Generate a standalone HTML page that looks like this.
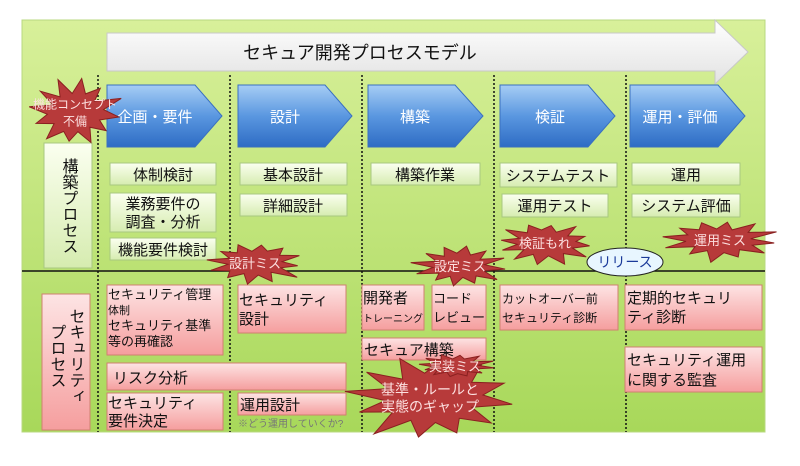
<!DOCTYPE html>
<html><head><meta charset="utf-8"><style>
body{margin:0;width:800px;height:461px;background:#fff;overflow:hidden;font-family:"Liberation Sans","Noto Sans CJK JP",sans-serif}
svg text{font-family:"Liberation Sans","Noto Sans CJK JP",sans-serif}
</style></head><body>
<svg width="800" height="461" viewBox="0 0 800 461" xmlns="http://www.w3.org/2000/svg">
<defs>
<linearGradient id="bg" x1="0" y1="0" x2="0" y2="1"><stop offset="0" stop-color="#d8f09a"/><stop offset="1" stop-color="#a8d85a"/></linearGradient>
<linearGradient id="bl" x1="0" y1="0" x2="0" y2="1"><stop offset="0" stop-color="#a6cdf5"/><stop offset="0.5" stop-color="#5a97e0"/><stop offset="1" stop-color="#2e6cc4"/></linearGradient>
<linearGradient id="gr" x1="0" y1="0" x2="0" y2="1"><stop offset="0" stop-color="#fbfff0"/><stop offset="1" stop-color="#d6ecb0"/></linearGradient>
<linearGradient id="pk" x1="0" y1="0" x2="0" y2="1"><stop offset="0" stop-color="#fde4e4"/><stop offset="1" stop-color="#f59e9e"/></linearGradient>
<linearGradient id="wh" x1="0" y1="0" x2="0" y2="1"><stop offset="0" stop-color="#ffffff"/><stop offset="1" stop-color="#e2e2e2"/></linearGradient>
</defs>
<rect x="22" y="20" width="743" height="412" fill="url(#bg)" stroke="#b8d880"/>
<polygon points="107,33 715,33 715,20 748,52 715,84 715,71 107,71" fill="url(#wh)" stroke="#c8c8c8"/>
<text x="360" y="59" font-size="18" text-anchor="middle" fill="#111">セキュア開発プロセスモデル</text>
<g stroke="#111" stroke-width="1.5" stroke-dasharray="2,2">
<line x1="98" y1="75" x2="98" y2="432"/><line x1="230" y1="75" x2="230" y2="432"/><line x1="362" y1="75" x2="362" y2="432"/><line x1="494" y1="75" x2="494" y2="432"/><line x1="626" y1="75" x2="626" y2="432"/>
</g>
<line x1="22" y1="271" x2="765" y2="271" stroke="#111" stroke-width="1.5"/>
<g fill="url(#bl)" stroke="#3a70c0">
<polygon points="107,85 195,85 222,116 195,147 107,147"/>
<polygon points="238,85 325,85 352,116 325,147 238,147"/>
<polygon points="368,85 455,85 483,116 455,147 368,147"/>
<polygon points="500,85 588,85 615,116 588,147 500,147"/>
<polygon points="630,85 718,85 745,116 718,147 630,147"/>
</g>
<g fill="#fff" font-size="15" text-anchor="middle">
<text x="155" y="122">企画・要件</text><text x="285" y="122">設計</text><text x="415" y="122">構築</text><text x="550" y="122">検証</text><text x="680" y="122">運用・評価</text>
</g>
<g fill="url(#gr)" stroke="#a8c880">
<rect x="44" y="143" width="48" height="125"/>
<rect x="110" y="163" width="106" height="22"/><rect x="110" y="193" width="106" height="39"/><rect x="110" y="238" width="106" height="22"/>
<rect x="240" y="163" width="107" height="22"/><rect x="240" y="194" width="107" height="22"/>
<rect x="371" y="163" width="109" height="22"/>
<rect x="500" y="163" width="117" height="24"/><rect x="502" y="194" width="106" height="23"/>
<rect x="632" y="163" width="108" height="22"/><rect x="632" y="194" width="108" height="23"/>
</g>
<g font-size="15" fill="#111" text-anchor="middle">
<text x="163" y="180">体制検討</text><text x="163" y="209">業務要件の</text><text x="163" y="227">調査・分析</text><text x="163" y="255">機能要件検討</text>
<text x="293" y="180">基本設計</text><text x="293" y="211">詳細設計</text><text x="425" y="180">構築作業</text>
<text x="558" y="181">システムテスト</text><text x="555" y="211">運用テスト</text>
<text x="686" y="180">運用</text><text x="686" y="211">システム評価</text>
</g>
<text font-size="16" fill="#111" style="writing-mode:tb" x="68" y="158">構築プロセス</text>
<g fill="url(#pk)" stroke="#d08070">
<rect x="42" y="294" width="48" height="136"/>
<rect x="107" y="285" width="116" height="70"/><rect x="238" y="285" width="108" height="48"/>
<rect x="362" y="285" width="62" height="45"/><rect x="432" y="285" width="54" height="45"/>
<rect x="362" y="338" width="124" height="22"/><rect x="107" y="363" width="239" height="27"/>
<rect x="107" y="393" width="116" height="37"/><rect x="238" y="393" width="108" height="22"/>
<rect x="500" y="285" width="118" height="45"/><rect x="625" y="285" width="137" height="45"/><rect x="625" y="347" width="137" height="45"/>
</g>
<g fill="#111" font-size="13">
<text x="108" y="299">セキュリティ管理</text><text x="108" y="314" font-size="11">体制</text><text x="108" y="330">セキュリティ基準</text><text x="108" y="346">等の再確認</text>
<text x="239" y="305" font-size="15">セキュリティ</text><text x="239" y="324" font-size="15">設計</text>
<text x="363" y="303" font-size="15">開発者</text><text x="363" y="322" font-size="10">トレーニング</text>
<text x="433" y="303">コード</text><text x="433" y="322">レビュー</text>
<text x="364" y="355" font-size="15">セキュア構築</text>
<text x="113" y="383" font-size="15">リスク分析</text>
<text x="108" y="408" font-size="15">セキュリティ</text><text x="108" y="426" font-size="15">要件決定</text>
<text x="240" y="410" font-size="15">運用設計</text>
<text x="238" y="427" font-size="10" fill="#777">※どう運用していくか?</text>
<text x="502" y="303" font-size="12">カットオーバー前</text><text x="502" y="322" font-size="12">セキュリティ診断</text>
<text x="627" y="303" font-size="15">定期的セキュリ</text><text x="627" y="322" font-size="15">ティ診断</text>
<text x="627" y="365" font-size="15">セキュリティ運用</text><text x="627" y="385" font-size="15">に関する監査</text>
</g>
<text font-size="16" fill="#111" style="writing-mode:tb" x="75" y="308">セキュリティ</text>
<text font-size="16" fill="#111" style="writing-mode:tb" x="56" y="324">プロセス</text>
<ellipse cx="625" cy="262" rx="38" ry="14" fill="#e8f6ff" stroke="#222"/>
<text x="625" y="267" font-size="14" fill="#1a3a9a" text-anchor="middle">リリース</text>
<g id="stars"></g>
</svg>
<script>
var S=[[75,112,48,36,22],[255,263,52,22,10],[460,266,48,22,10],[545,243,52,22,11],[720,240,60,22,11],[430,398,90,46,26],[455,366,40,13,8]];
var L=[["機能コンセプト","不備"],["設計ミス"],["設定ミス"],["検証もれ"],["運用ミス"],["基準・ルールと","実態のギャップ"],["実装ミス"]];
var g=document.getElementById('stars'),h='',seed=7;
function rnd(){seed=(seed*9301+49297)%233280;return seed/233280;}
S.forEach(function(s,i){var p=[],n=12;for(var k=0;k<n*2;k++){var a=k*Math.PI/n+0.15;var ro=k%2?0.5+rnd()*0.1:0.8+rnd()*0.25;p.push((s[0]+Math.cos(a)*s[2]*ro).toFixed(1)+','+(s[1]+Math.sin(a)*s[3]*ro).toFixed(1));}
h+='<polygon points="'+p.join(' ')+'" fill="#b73a3a" stroke="#8a2020"/>';
var l=L[i],fs=i==0?12:(i==5?14:13);l.forEach(function(t,j){h+='<text x="'+s[0]+'" y="'+(s[1]+5+(j-(l.length-1)/2)*17)+'" font-size="'+fs+'" fill="#fde0e0" text-anchor="middle">'+t+'</text>';});});
g.innerHTML=h;
</script>
</body></html>
